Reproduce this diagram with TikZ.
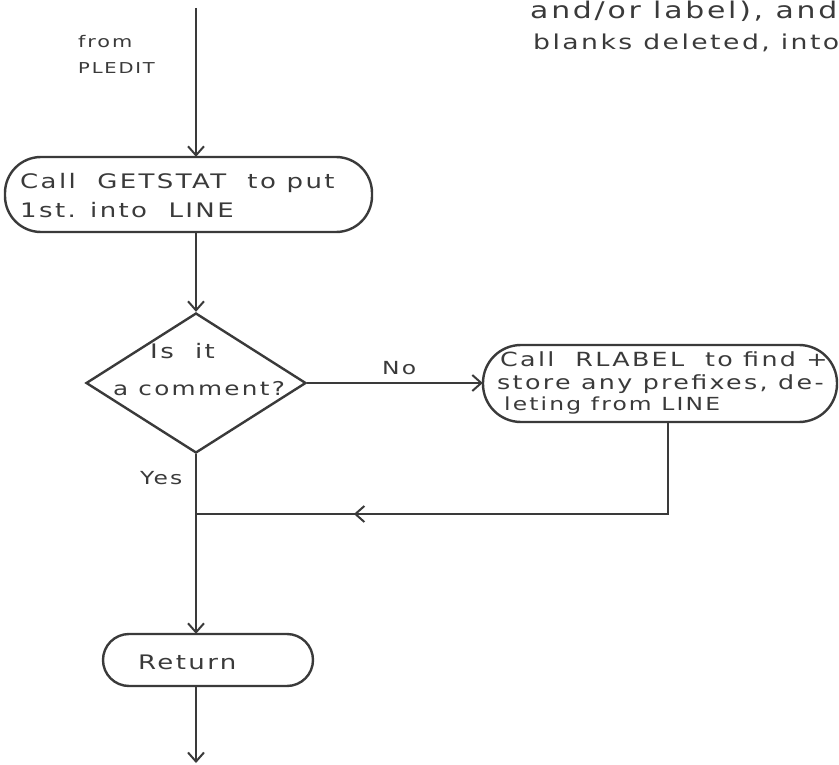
\documentclass[tikz,border=0pt]{standalone}
\usepackage{fontspec}
\setmainfont{DejaVu Sans}
\newfontfamily\handfont[FakeStretch=1.3,LetterSpace=12]{DejaVu Sans}
\usetikzlibrary{arrows.meta,shapes.geometric,decorations.markings}
\definecolor{ink}{HTML}{3A3A3A}
\newcommand{\hs}[1]{\handfont\fontsize{#1}{#1}\selectfont}
\tikzset{
  x=1pt, y=-1pt,
  line/.style={draw=ink, line width=2.4pt},
  arr/.style={line, -{Straight Barb[length=9pt,width=16pt,line width=2pt]}},
  hand/.style={text=ink, font=\hs{20}, align=left, anchor=west, inner sep=0pt},
  midarrow/.style={postaction={decorate}, decoration={markings, mark=at position #1 with {\arrow{Straight Barb[length=9pt,width=16pt,line width=2pt]}}}}
}
\begin{document}
\begin{tikzpicture}
\useasboundingbox (0,0) rectangle (839,765);
\clip (0,0) rectangle (839,765);
% terminal boxes
\draw[line, rounded corners=36pt] (5,157) rectangle (372,232);
\node (b1) at (188.5,194.5) [minimum width=367pt, minimum height=75pt] {};
\draw[line, rounded corners=38pt] (483,345) rectangle (837,422);
\node (b2) at (660,383.5) [minimum width=354pt, minimum height=77pt] {};
\draw[line, rounded corners=26pt] (103,634) rectangle (313,686);
\node (b3) at (208,660) [minimum width=210pt, minimum height=52pt] {};
% diamond
\node (d) [diamond, draw=ink, line width=2.4pt, minimum width=220pt, minimum height=140pt, inner sep=0pt, aspect=1.6] at (196,383) {};
% texts
\node[hand, font=\hs{16}] (t0a) at (78,42) {from};
\node[hand, font=\hs{15}] (t0b) at (78,68) {PLEDIT};
\node[hand] (t1a) at (20,183) {Call \ GETSTAT \ to put};
\node[hand] (t1b) at (20,210) {1st. into \ LINE};
\node[hand] (td1) at (150,351) {Is \ it};
\node[hand, font=\hs{19}] (td2) at (113,389) {a comment?};
\node[hand, font=\hs{18}] (tno) at (382,368) {No};
\node[hand, font=\hs{18}] (tyes) at (140,478) {Yes};
\node[hand, font=\hs{19.5}] (t2a) at (500,359) {Call \ RLABEL \ to find +};
\node[hand, font=\hs{19.5}] (t2b) at (497,384) {store any prefixes, de-};
\node[hand, font=\hs{18}] (t2c) at (504,406) {leting from LINE};
\node[hand] (t3) at (138,662) {Return};
\node[hand, font=\hs{23}] (tr1) at (530,11) {and/or label), and};
\node[hand, font=\hs{20.5}] (tr2) at (533,43) {blanks deleted, into};
% connectors
\coordinate (top) at (196,8);
\coordinate (bot) at (196,763);
\coordinate (corner) at (668,514);
\coordinate (merge) at (196,514);
\draw[arr] (top) -- (b1.north -| top);
\draw[arr] (b1.south -| top) -- (d.north);
\draw[arr] (d.east) -- (b2.west |- d.east);
\draw[line, midarrow=0.72] (b2.south -| corner) -- (corner) -- (merge);
\draw[arr] (d.south) -- (b3.north -| top);
\draw[arr] (b3.south -| top) -- (bot);
\end{tikzpicture}
\end{document}
